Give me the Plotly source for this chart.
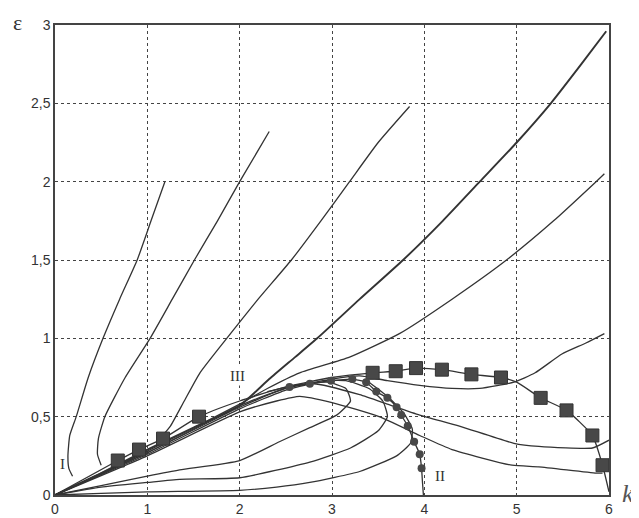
import plotly.graph_objects as go

# ---- data ----
x_ticks = [0, 1, 2, 3, 4, 5, 6]
x_tick_labels = ["0", "1", "2", "3", "4", "5", "6"]
y_ticks = [0, 0.5, 1, 1.5, 2, 2.5, 3]
y_tick_labels = ["0", "0,5", "1", "1,5", "2", "2,5", "3"]

c1_k = [0.19, 0.15, 0.14, 0.16, 0.23, 0.36, 0.52, 0.70, 0.89, 1.04, 1.19]
c1_e = [0.12, 0.17, 0.25, 0.38, 0.50, 0.75, 1.00, 1.25, 1.50, 1.75, 2.00]

c2_k = [0.50, 0.46, 0.47, 0.54, 0.76, 1.03, 1.27, 1.51, 1.76, 2.00, 2.32]
c2_e = [0.19, 0.26, 0.36, 0.50, 0.75, 1.00, 1.25, 1.50, 1.75, 2.00, 2.32]

c3_k = [1.15, 1.25, 1.40, 1.57, 1.86, 2.20, 2.56, 2.88, 3.19, 3.50, 3.84]
c3_e = [0.37, 0.44, 0.60, 0.78, 1.00, 1.25, 1.50, 1.75, 2.00, 2.25, 2.48]

c4_k = [0, 0.5, 1.0, 1.5, 2.0, 2.32, 2.60, 2.84, 3.30, 3.77, 4.20, 4.60, 5.00, 5.37, 5.70, 5.97]
c4_e = [0, 0.14, 0.29, 0.43, 0.57, 0.74, 0.88, 1.00, 1.25, 1.50, 1.75, 2.00, 2.25, 2.50, 2.75, 2.96]

c5_k = [0, 1.0, 2.0, 2.30, 2.65, 3.19, 3.73, 4.30, 4.89, 5.40, 5.86, 5.95]
c5_e = [0, 0.28, 0.58, 0.68, 0.78, 0.88, 1.03, 1.25, 1.50, 1.75, 2.00, 2.05]

c6_k = [0, 1.0, 2.0, 2.5, 3.0, 3.3, 3.6, 3.95, 4.3, 4.6, 4.97, 5.2, 5.49, 5.75, 5.95]
c6_e = [0, 0.27, 0.56, 0.68, 0.74, 0.76, 0.73, 0.70, 0.68, 0.68, 0.72, 0.78, 0.90, 0.97, 1.03]

c7_k = [0, 1.0, 2.0, 2.5, 2.8, 3.3, 3.6, 3.95, 4.38, 4.97, 5.24, 5.82, 6.0]
c7_e = [0, 0.26, 0.55, 0.67, 0.71, 0.64, 0.58, 0.51, 0.44, 0.33, 0.31, 0.30, 0.35]

c8_k = [0, 1.0, 2.0, 2.4, 2.65, 3.0, 3.51, 3.95, 4.3, 4.95, 5.24, 5.86, 5.93]
c8_e = [0, 0.25, 0.53, 0.60, 0.63, 0.59, 0.50, 0.38, 0.29, 0.19, 0.18, 0.14, 0.14]

l1_k = [0, 0.5, 1.0, 1.35, 2.0, 2.43, 2.76, 3.05, 3.20, 3.15, 2.95, 2.60, 2.30]
l1_e = [0, 0.06, 0.12, 0.16, 0.22, 0.34, 0.43, 0.51, 0.60, 0.68, 0.72, 0.70, 0.66]

l2_k = [0, 0.5, 1.0, 1.35, 2.0, 2.76, 3.20, 3.50, 3.60, 3.55, 3.40, 3.15, 2.90]
l2_e = [0, 0.05, 0.08, 0.10, 0.11, 0.21, 0.30, 0.41, 0.50, 0.60, 0.68, 0.73, 0.73]

l3_k = [0, 0.5, 1.0, 2.0, 2.4, 2.76, 3.3, 3.7, 3.85, 3.87, 3.78, 3.6, 3.4]
l3_e = [0, 0.01, 0.02, 0.03, 0.05, 0.08, 0.15, 0.25, 0.33, 0.42, 0.52, 0.63, 0.72]

sq_line_k = [0, 0.68, 0.91, 1.17, 1.56, 2.0, 2.5, 3.0, 3.44, 3.69, 3.91, 4.19, 4.51, 4.83, 5.0, 5.26, 5.54, 5.82, 5.93, 6.0]
sq_line_e = [0, 0.22, 0.29, 0.36, 0.50, 0.60, 0.69, 0.75, 0.78, 0.79, 0.81, 0.80, 0.77, 0.75, 0.72, 0.62, 0.54, 0.38, 0.19, 0.02]
sq_k = [0.68, 0.91, 1.17, 1.56, 3.44, 3.69, 3.91, 4.19, 4.51, 4.83, 5.26, 5.54, 5.82, 5.93]
sq_e = [0.22, 0.29, 0.36, 0.50, 0.78, 0.79, 0.81, 0.80, 0.77, 0.75, 0.62, 0.54, 0.38, 0.19]

dot_line_k = [0, 1.0, 2.0, 2.3, 2.54, 2.76, 2.99, 3.22, 3.37, 3.48, 3.6, 3.7, 3.75, 3.82, 3.89, 3.95, 3.97, 3.98, 3.99]
dot_line_e = [0, 0.27, 0.57, 0.64, 0.69, 0.71, 0.73, 0.74, 0.72, 0.66, 0.62, 0.56, 0.51, 0.44, 0.34, 0.26, 0.17, 0.08, 0.0]
dot_k = [2.54, 2.76, 2.99, 3.22, 3.37, 3.48, 3.6, 3.7, 3.75, 3.82, 3.89, 3.95, 3.97]
dot_e = [0.69, 0.71, 0.73, 0.74, 0.72, 0.66, 0.62, 0.56, 0.51, 0.44, 0.34, 0.26, 0.17]

labels = ["I", "II", "III"]
label_k = [0.08, 4.17, 1.98]
label_e = [0.2, 0.12, 0.76]

# ---- figure ----
LINE = "#333333"
fig = go.Figure()

def curve(xs, ys, w=1.3):
    fig.add_trace(go.Scatter(x=xs, y=ys, mode="lines",
                             line=dict(color=LINE, width=w, shape="spline", smoothing=0.5),
                             hoverinfo="skip", showlegend=False))

for xs, ys in [(c1_k, c1_e), (c2_k, c2_e), (c3_k, c3_e), (c5_k, c5_e),
               (c6_k, c6_e), (c7_k, c7_e), (c8_k, c8_e),
               (l1_k, l1_e), (l2_k, l2_e), (l3_k, l3_e)]:
    curve(xs, ys)
curve(c4_k, c4_e, w=1.9)
curve(sq_line_k, sq_line_e)
curve(dot_line_k, dot_line_e)

fig.add_trace(go.Scatter(x=sq_k, y=sq_e, mode="markers",
                         marker=dict(symbol="square", size=13, color="#484848",
                                     line=dict(color="#333", width=1)),
                         hoverinfo="skip", showlegend=False))
fig.add_trace(go.Scatter(x=dot_k, y=dot_e, mode="markers",
                         marker=dict(symbol="circle", size=8, color="#484848"),
                         hoverinfo="skip", showlegend=False))

for t, kx, ey in zip(labels, label_k, label_e):
    fig.add_annotation(x=kx, y=ey, text=t, showarrow=False, bgcolor="white",
                       font=dict(family="Liberation Serif", size=15, color="#333"))

fig.add_annotation(xref="paper", yref="paper", x=-0.067, y=1.006, text="ε",
                   xanchor="center", yanchor="middle",
                   showarrow=False, font=dict(family="Liberation Serif", size=22, color="#333"))
fig.add_annotation(xref="paper", yref="paper", x=1.034, y=0.004, text="<i>k</i>",
                   xanchor="center", yanchor="middle",
                   showarrow=False, font=dict(family="Liberation Serif", size=26, color="#555"))

axis_common = dict(showgrid=True, gridcolor="#444", gridwidth=1.3, griddash="3px,3px",
                   showline=True, linecolor="#444", linewidth=1.5, mirror=True,
                   zeroline=False, ticks="",
                   tickfont=dict(family="Liberation Sans", size=14, color="#333"))
fig.update_xaxes(range=[0, 6], tickvals=x_ticks, ticktext=x_tick_labels, **axis_common)
fig.update_yaxes(range=[0, 3], tickvals=y_ticks, ticktext=y_tick_labels, **axis_common)

# the page body adds an 8px offset, so the figure is 8px smaller and margins shifted
fig.update_layout(width=631, height=510,
                  margin=dict(l=47, r=30, t=17, b=23, autoexpand=False),
                  paper_bgcolor="white", plot_bgcolor="white")
fig.write_html("out.html")
